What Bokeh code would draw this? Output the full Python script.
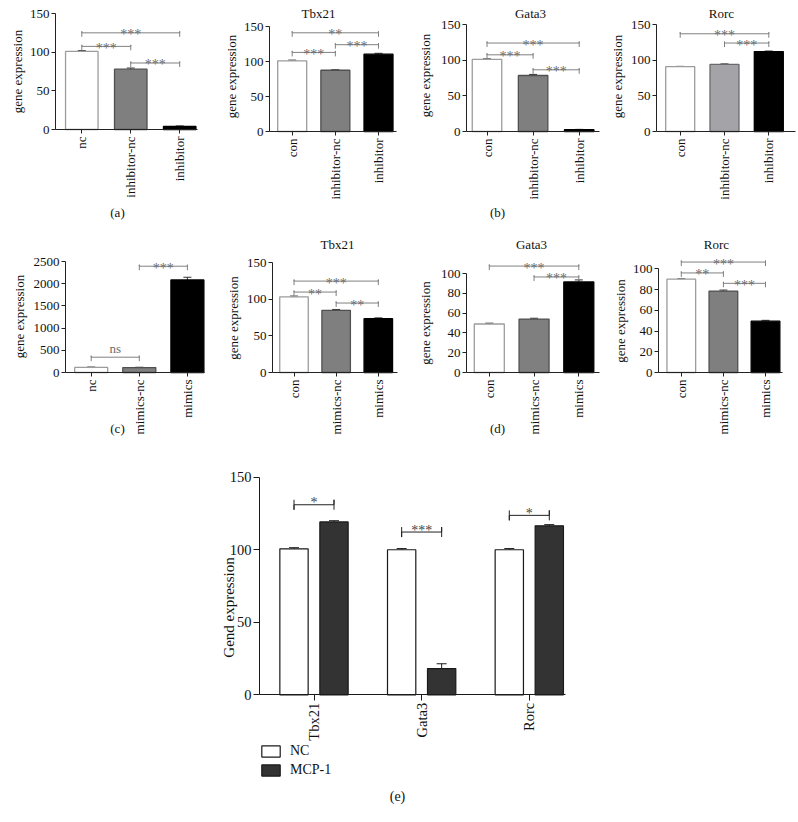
import math
from bokeh.plotting import figure
from bokeh.models import (Range1d, FixedTicker, Label, Whisker, TeeHead,
                          ColumnDataSource, Legend, LegendItem)
from bokeh.layouts import row, column
from bokeh.embed import file_html
from bokeh.resources import INLINE
from bokeh.core.properties import value

FONT = "Liberation Serif"

# ---------------- data ----------------
# (a) inhibitor
a_cats = ["nc", "inhibitor-nc", "inhibitor"]
a_vals = [101, 78, 4]
a_errs = [1.0, 1.5, 0.6]
a_sig = [(0, 2, 125, "***"), (0, 1, 107.5, "***"), (1, 2, 86, "***")]

# (b) inhibitor: Tbx21 / Gata3 / Rorc
b_cats = ["con", "inhibitor-nc", "inhibitor"]
b_tbx21_vals = [101, 87.5, 110.5]
b_tbx21_errs = [1.0, 0.8, 1.2]
b_tbx21_sig = [(0, 2, 141, "**"), (0, 1, 113, "***"), (1, 2, 124, "***")]
b_gata3_vals = [101, 78.5, 2.5]
b_gata3_errs = [0.8, 1.5, 0.5]
b_gata3_sig = [(0, 2, 124, "***"), (0, 1, 107.5, "***"), (1, 2, 86.5, "***")]
b_rorc_vals = [91, 94, 112]
b_rorc_errs = [0.3, 0.8, 0.8]
b_rorc_sig = [(0, 2, 137, "***"), (1, 2, 124, "***")]

# (c) mimics
c_cats = ["nc", "mimics-nc", "mimics"]
c_vals = [115, 110, 2085]
c_errs = [8, 8, 60]
c_sig = [(0, 1, 345, "ns"), (1, 2, 2394, "***")]

# (d) mimics: Tbx21 / Gata3 / Rorc
d_cats = ["con", "mimics-nc", "mimics"]
d_tbx21_vals = [103.5, 85, 73.5]
d_tbx21_errs = [1.0, 1.2, 1.2]
d_tbx21_sig = [(0, 2, 125, "***"), (0, 1, 110, "**"), (1, 2, 95, "**")]
d_gata3_vals = [49, 54, 91.5]
d_gata3_errs = [0.8, 0.8, 2.0]
d_gata3_sig = [(0, 2, 107.5, "***"), (1, 2, 96.5, "***")]
d_rorc_vals = [90, 78.5, 49.5]
d_rorc_errs = [0.3, 1.0, 0.8]
d_rorc_sig = [(0, 2, 106.5, "***"), (0, 1, 96, "**"), (1, 2, 86, "***")]

# (e) MCP-1
e_genes = ["Tbx21", "Gata3", "Rorc"]
e_series = ["NC", "MCP-1"]
e_nc_vals = [100.6, 100.0, 100.0]
e_nc_errs = [0.8, 0.8, 0.8]
e_mcp_vals = [119.2, 18.1, 116.5]
e_mcp_errs = [0.8, 3.3, 0.8]
e_sig = [(0, 131, "*"), (1, 112.2, "***"), (2, 123.7, "*")]

TICKS_150 = [0, 50, 100, 150]
TICKS_100 = [0, 20, 40, 60, 80, 100]
TICKS_2500 = [0, 500, 1000, 1500, 2000, 2500]

STD_FILLS = ["#ffffff", "#7f7f7f", "#000000"]
STD_LINES = ["#9c9c9c", "#505050", "#000000"]
RORC_FILLS = ["#ffffff", "#a4a4a8", "#000000"]
RORC_LINES = ["#9c9c9c", "#6b6b6b", "#000000"]

# page layout in page pixels: (start, size) of each row / column
R1 = (0, 220)
R2 = (220, 220)
R3 = (440, 380)
C1 = (0, 208)
C2 = (208, 197)
C3 = (405, 197)
C4 = (602, 195)


class Geo:
    """maps page pixels to data coordinates for one panel"""
    def __init__(self, box, y0, ppu, c_first, sp):
        self.box, self.y0, self.ppu, self.c0, self.sp = box, y0, ppu, c_first, sp

    def x(self, px):
        return (px - self.c0) / self.sp

    def y(self, py):
        return (self.y0 - py) / self.ppu


def add_text(p, g, text, xy, size, angle=0.0):
    p.add_layout(Label(x=g.x(xy[0]), y=g.y(xy[1]), text=text, angle=angle,
                       text_align="center", text_baseline="middle",
                       text_font=FONT, text_font_size=size, text_color="#111111"))


def make_fig(g, ax_l, ax_r, fs, ylabel, ylab_xy, yticks, ytop, xlabels,
             tick_out=4, axcol="#222222", xstandoff=3, ylab_fs=None):
    fx, fy, fw, fh = g.box
    p = figure(width=fw, height=fh,
               x_range=Range1d(g.x(fx), g.x(fx + fw)),
               y_range=Range1d(g.y(fy + fh), g.y(fy)),
               output_backend="svg", toolbar_location=None, title=None,
               min_border_left=0, min_border_right=0, min_border_top=0, min_border_bottom=0)
    p.xgrid.visible = False
    p.ygrid.visible = False
    p.outline_line_color = None
    p.background_fill_color = "white"
    p.border_fill_color = "white"
    for ax in (p.xaxis[0], p.yaxis[0]):
        ax.axis_line_color = axcol
        ax.major_tick_line_color = axcol
        ax.major_tick_out = tick_out
        ax.major_tick_in = 0
        ax.minor_tick_out = 0
        ax.minor_tick_in = 0
        ax.major_label_text_font = FONT
        ax.major_label_text_font_size = fs
        ax.major_label_text_color = "#111111"
    p.yaxis.fixed_location = g.x(ax_l)
    p.yaxis.ticker = FixedTicker(ticks=yticks)
    p.yaxis.bounds = (0, ytop)
    p.yaxis.major_label_standoff = 2
    p.xaxis.fixed_location = 0
    p.xaxis.bounds = (g.x(ax_l), g.x(ax_r))
    p.xaxis.ticker = FixedTicker(ticks=list(range(len(xlabels))))
    p.xaxis.major_label_overrides = {i: t for i, t in enumerate(xlabels)}
    p.xaxis.major_label_orientation = math.pi / 2
    p.xaxis.major_label_standoff = xstandoff
    add_text(p, g, ylabel, ylab_xy, ylab_fs or fs, angle=math.pi / 2)
    return p


def bar_panel(colbox, rowbox, ax_l, ax_r, y0, yref_px, yref_val, c_first, c_last, bar_px,
              cats, vals, errs, fills, lines, sig, yticks, ytop, ylab_xy,
              title=None, title_xy=None, letter=None, letter_xy=None):
    box = (colbox[0], rowbox[0], colbox[1], rowbox[1])
    n = len(cats)
    sp = (c_last - c_first) / (n - 1)
    ppu = (y0 - yref_px) / yref_val
    g = Geo(box, y0, ppu, c_first, sp)
    p = make_fig(g, ax_l, ax_r, "13px", "gene expression", ylab_xy, yticks, ytop, cats)
    xs = list(range(n))
    src = ColumnDataSource(dict(x=xs, top=vals, hi=[v + e for v, e in zip(vals, errs)],
                                fill=fills, line=lines))
    p.vbar(x="x", top="top", bottom=0, width=bar_px / sp, source=src,
           fill_color="fill", line_color="line", line_width=1.3)
    p.add_layout(Whisker(source=src, base="x", lower="top", upper="hi", dimension="height",
                         line_color="#333333", line_width=1,
                         upper_head=TeeHead(size=8, line_color="#333333", line_width=1),
                         lower_head=None))
    d_dn = 4 / ppu
    d_up = 1.5 / ppu
    mxs, mys, tx, ty, tt, toff, tsize = [], [], [], [], [], [], []
    for i, j, yv, lab in sig:
        mxs.append([i, i, i, j, j, j])
        mys.append([yv - d_dn, yv + d_up, yv, yv, yv + d_up, yv - d_dn])
        tx.append((i + j) / 2)
        ty.append(yv)
        tt.append(lab)
        toff.append(-9 if lab == "ns" else 2)
        tsize.append("13px" if lab == "ns" else "14px")
    p.multi_line(xs=mxs, ys=mys, line_color="#808080", line_width=1)
    p.text(x=tx, y=ty, text=tt, y_offset=toff, text_align="center", text_baseline="alphabetic",
           text_font=value(FONT), text_font_size=tsize, text_color="#6a6a6a")
    if title:
        add_text(p, g, title, title_xy, "13px")
    if letter:
        add_text(p, g, letter, letter_xy, "13px")
    return p


pa = bar_panel(C1, R1, 55, 197, 129, 13, 150, 81.3, 179.2, 32.5,
               a_cats, a_vals, a_errs, STD_FILLS, STD_LINES, a_sig, TICKS_150, 150, (17, 71),
               letter="(a)", letter_xy=(117, 212))
pb1 = bar_panel(C2, R1, 269, 396, 131, 61, 100, 291.7, 378, 29,
                b_cats, b_tbx21_vals, b_tbx21_errs, STD_FILLS, STD_LINES, b_tbx21_sig,
                TICKS_150, 150, (230.5, 76), title="Tbx21", title_xy=(318, 13))
pb2 = bar_panel(C3, R1, 466, 599, 131, 24, 150, 486.5, 578.7, 29.5,
                b_cats, b_gata3_vals, b_gata3_errs, STD_FILLS, STD_LINES, b_gata3_sig,
                TICKS_150, 150, (425, 75), title="Gata3", title_xy=(530, 13),
                letter="(b)", letter_xy=(497, 212))
pb3 = bar_panel(C4, R1, 656, 795, 131, 24, 150, 679.7, 768.3, 29,
                b_cats, b_rorc_vals, b_rorc_errs, RORC_FILLS, RORC_LINES, b_rorc_sig,
                TICKS_150, 150, (617, 76), title="Rorc", title_xy=(721, 13))

pc = bar_panel(C1, R2, 65, 204, 372, 261, 2500, 90.7, 186.9, 33,
               c_cats, c_vals, c_errs, STD_FILLS, STD_LINES, c_sig, TICKS_2500, 2500, (18.7, 316),
               letter="(c)", letter_xy=(117, 428))
pd1 = bar_panel(C2, R2, 272, 397, 372, 262.3, 150, 293.5, 377.8, 28.5,
                d_cats, d_tbx21_vals, d_tbx21_errs, STD_FILLS, STD_LINES, d_tbx21_sig,
                TICKS_150, 150, (233, 317.5), title="Tbx21", title_xy=(337, 244))
pd2 = bar_panel(C3, R2, 466, 599, 372, 273, 100, 488.8, 578.3, 30,
                d_cats, d_gata3_vals, d_gata3_errs, STD_FILLS, STD_LINES, d_gata3_sig,
                TICKS_100, 100, (425, 322.5), title="Gata3", title_xy=(531, 244),
                letter="(d)", letter_xy=(497, 428))
pd3 = bar_panel(C4, R2, 658, 782, 372, 268.3, 100, 680.8, 765, 28.7,
                d_cats, d_rorc_vals, d_rorc_errs, STD_FILLS, STD_LINES, d_rorc_sig,
                TICKS_100, 100, (619.5, 320.5), title="Rorc", title_xy=(716, 244))

# ---------------- (e) ----------------
E_BOX = (0, R3[0], 600, R3[1])
e_sp = (528.8 - 313.5) / 2
e_ppu = (694.3 - 476.7) / 150
ge = Geo(E_BOX, 694.3, e_ppu, 313.5, e_sp)
pe = make_fig(ge, 259, 565, "14.5px", "Gend expression", (228, 607), TICKS_150, 150, e_genes,
              tick_out=6, axcol="#1a1a1a", xstandoff=2, ylab_fs="15px")
off = 20 / e_sp
bw = 28.3 / e_sp
gx = list(range(len(e_genes)))
nc_src = ColumnDataSource(dict(x=[k - off for k in gx], top=e_nc_vals,
                               hi=[v + e for v, e in zip(e_nc_vals, e_nc_errs)]))
mcp_src = ColumnDataSource(dict(x=[k + off for k in gx], top=e_mcp_vals,
                                hi=[v + e for v, e in zip(e_mcp_vals, e_mcp_errs)]))
r_nc = pe.vbar(x="x", top="top", bottom=0, width=bw, source=nc_src,
               fill_color="#ffffff", line_color="#1a1a1a", line_width=1.2)
r_mcp = pe.vbar(x="x", top="top", bottom=0, width=bw, source=mcp_src,
                fill_color="#333333", line_color="#1a1a1a", line_width=1.2)
for s in (nc_src, mcp_src):
    pe.add_layout(Whisker(source=s, base="x", lower="top", upper="hi", dimension="height",
                          line_color="#1a1a1a", line_width=1,
                          upper_head=TeeHead(size=10, line_color="#1a1a1a", line_width=1),
                          lower_head=None))
dd = 5 / e_ppu
exs, eys, etx, ety, ett = [], [], [], [], []
for k, yv, lab in e_sig:
    a, b = k - off, k + off
    exs.append([a, a, a, b, b, b])
    eys.append([yv + dd, yv - dd, yv, yv, yv + dd, yv - dd])
    etx.append(k)
    ety.append(yv)
    ett.append(lab)
pe.multi_line(xs=exs, ys=eys, line_color="#222222", line_width=1)
pe.text(x=etx, y=ety, text=ett, y_offset=-2, text_align="center", text_baseline="alphabetic",
        text_font=value(FONT), text_font_size="14px", text_color="#444444")
legend = Legend(items=[LegendItem(label=e_series[0], renderers=[r_nc]),
                       LegendItem(label=e_series[1], renderers=[r_mcp])],
                location=(259 - E_BOX[0], E_BOX[1] + E_BOX[3] - 778), orientation="vertical",
                border_line_color=None, background_fill_alpha=0,
                padding=0, margin=0, spacing=3, glyph_width=23, glyph_height=14,
                label_height=14, label_standoff=8,
                label_text_font=FONT, label_text_font_size="14px",
                label_text_color="#111111", label_text_baseline="middle")
pe.add_layout(legend)
add_text(pe, ge, "(e)", (397, 796), "14px")

layout = column(row(pa, pb1, pb2, pb3), row(pc, pd1, pd2, pd3), row(pe))
open("out.html", "w").write(file_html(layout, INLINE))
